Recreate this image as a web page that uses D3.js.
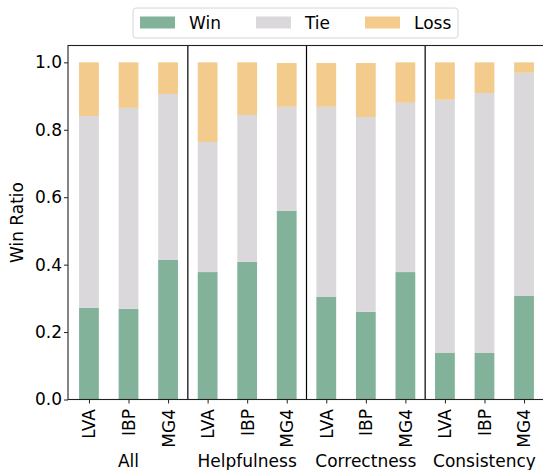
<!DOCTYPE html>
<html>
<head>
<meta charset="utf-8">
<script src="https://cdn.jsdelivr.net/npm/d3@7"></script>
<style>
html,body{margin:0;padding:0;background:#fff;}
svg{display:block;font-family:"DejaVu Sans",sans-serif;}
</style>
</head>
<body>
<svg id="chart" width="543" height="470"></svg>
<script>
const groups = ["All", "Helpfulness", "Correctness", "Consistency"];
const models = ["LVA", "IBP", "MG4"];
const winVals  = [0.272, 0.269, 0.414, 0.378, 0.408, 0.560, 0.304, 0.260, 0.378, 0.138, 0.138, 0.307];
const tieVals  = [0.569, 0.596, 0.492, 0.386, 0.436, 0.308, 0.564, 0.578, 0.502, 0.751, 0.771, 0.662];
const lossVals = [0.159, 0.135, 0.094, 0.236, 0.156, 0.130, 0.130, 0.160, 0.120, 0.111, 0.091, 0.031];
const seriesNames = ["Win", "Tie", "Loss"];
const colors = ["#82b29a", "#dad8db", "#f2cb8d"];
const yTicks = [0, 0.2, 0.4, 0.6, 0.8, 1.0];

const FS = 17;
const svg = d3.select("#chart");
const n = groups.length * models.length;
const idx = d3.range(n);

const x = d3.scaleLinear().domain([-0.53, n - 0.47]).range([68, 545]);
const y = d3.scaleLinear().domain([0, 1.05]).range([399.5, 45.5]);
const barW = x(0.25) - x(-0.25);

const rows = idx.map(i => ({i, Win: winVals[i], Tie: tieVals[i], Loss: lossVals[i]}));
const stack = d3.stack().keys(seriesNames)(rows);

const color = d3.scaleOrdinal().domain(seriesNames).range(colors);

svg.append("g").selectAll("g").data(stack).join("g")
  .attr("fill", d => color(d.key))
  .selectAll("rect").data(d => d).join("rect")
  .attr("x", d => x(d.data.i) - barW / 2)
  .attr("width", barW)
  .attr("y", d => y(d[1]))
  .attr("height", d => y(d[0]) - y(d[1]));

// separators
svg.append("g").selectAll("line").data([2.5, 5.5, 8.5]).join("line")
  .attr("x1", d => x(d)).attr("x2", d => x(d))
  .attr("y1", y(1.05)).attr("y2", y(0))
  .attr("stroke", "#000").attr("stroke-width", 1.2);

// frame
svg.append("rect")
  .attr("x", x.range()[0]).attr("y", y(1.05))
  .attr("width", x.range()[1] - x.range()[0]).attr("height", y(0) - y(1.05))
  .attr("fill", "none").attr("stroke", "#222").attr("stroke-width", 1.1);

// y axis
const yAxis = svg.append("g").attr("transform", `translate(${x.range()[0]},0)`)
  .call(d3.axisLeft(y).tickValues(yTicks).tickFormat(d3.format(".1f")).tickSizeOuter(0).tickSize(4).tickPadding(2));
yAxis.select(".domain").remove();
yAxis.selectAll("text").attr("font-size", FS).attr("font-family", "DejaVu Sans").attr("fill", "#000");
yAxis.selectAll("line").attr("stroke", "#222");

svg.append("text")
  .attr("transform", `translate(23,${(y(0) + y(1.05)) / 2}) rotate(-90)`)
  .attr("text-anchor", "middle").attr("font-size", FS).attr("fill", "#000")
  .text("Win Ratio");

// x axis
const xLabels = idx.map(i => models[i % models.length]);
const xAxis = svg.append("g").attr("transform", `translate(0,${y(0)})`)
  .call(d3.axisBottom(x).tickValues(idx).tickFormat(i => xLabels[i]).tickSizeOuter(0).tickSize(4).tickPadding(4));
xAxis.select(".domain").remove();
xAxis.selectAll("line").attr("stroke", "#222");
xAxis.selectAll("text")
  .attr("font-size", FS).attr("font-family", "DejaVu Sans").attr("fill", "#000")
  .attr("transform", "rotate(-90)")
  .attr("text-anchor", "end")
  .attr("dy", "0.35em")
  .attr("x", -9.5).attr("y", 0);

// group labels
svg.append("g").selectAll("text").data(groups).join("text")
  .attr("x", (d, g) => x(g * 3 + 1))
  .attr("y", 467)
  .attr("text-anchor", "middle").attr("font-size", FS).attr("fill", "#000")
  .text(d => d);

// legend
const legend = svg.append("g");
legend.append("rect")
  .attr("x", 133).attr("y", 8).attr("width", 325).attr("height", 30)
  .attr("rx", 3).attr("fill", "#fff").attr("stroke", "#d6d6d6").attr("stroke-width", 1);
const legX = [140, 256, 365];
const item = legend.selectAll("g.item").data(seriesNames).join("g").attr("class", "item")
  .attr("transform", (d, k) => `translate(${legX[k]},0)`);
item.append("rect").attr("x", 0).attr("y", 16.5).attr("width", 35).attr("height", 12)
  .attr("fill", d => color(d));
item.append("text").attr("x", 49).attr("y", 29).attr("font-size", FS).attr("fill", "#000")
  .text(d => d);
</script>
</body>
</html>
